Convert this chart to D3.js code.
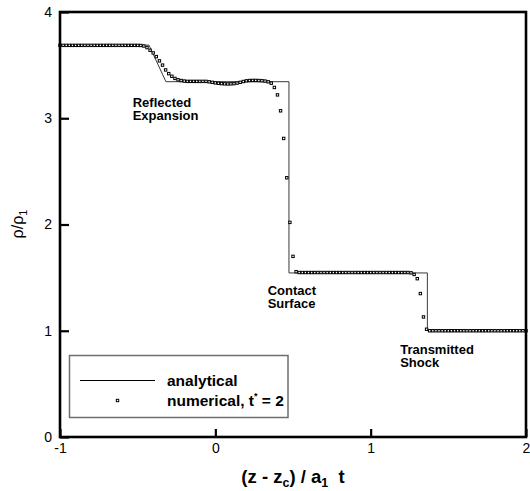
<!DOCTYPE html>
<html>
<head>
<meta charset="utf-8">
<script src="https://cdn.jsdelivr.net/npm/d3@7"></script>
<style>
  html, body { margin: 0; padding: 0; background: #fff; }
  svg { display: block; font-family: "Liberation Sans", Arial, Helvetica, sans-serif; }
</style>
</head>
<body>
<svg id="chart" width="530" height="491"></svg>
<script>
// ---------------- data ----------------
const xTicks = [-1, 0, 1, 2];
const yTicks = [0, 1, 2, 3, 4];

// analytical solution (piecewise)
const anaZ   = [-1, -0.427, -0.318, 0.474, 0.474, 1.365, 1.365, 2];
const anaRho = [3.688, 3.688, 3.344, 3.344, 1.544, 1.544, 1.0, 1.0];

// numerical solution, t* = 2
const numZ = [
  -1.00,-0.98,-0.96,-0.94,-0.92,-0.90,-0.88,-0.86,-0.84,-0.82,
  -0.80,-0.78,-0.76,-0.74,-0.72,-0.70,-0.68,-0.66,-0.64,-0.62,
  -0.60,-0.58,-0.56,-0.54,-0.52,-0.50,-0.48,-0.46,-0.44,-0.42,
  -0.40,-0.38,-0.36,-0.34,-0.32,-0.30,-0.28,-0.26,-0.24,-0.22,
  -0.20,-0.18,-0.16,-0.14,-0.12,-0.10,-0.08,-0.06,-0.04,-0.02,
   0.00, 0.02, 0.04, 0.06, 0.08, 0.10, 0.12, 0.14, 0.16, 0.18,
   0.20, 0.22, 0.24, 0.26, 0.28, 0.30, 0.32, 0.34, 0.36, 0.38,
   0.40, 0.42, 0.44, 0.46, 0.48, 0.50, 0.52, 0.54, 0.56, 0.58,
   0.60, 0.62, 0.64, 0.66, 0.68, 0.70, 0.72, 0.74, 0.76, 0.78,
   0.80, 0.82, 0.84, 0.86, 0.88, 0.90, 0.92, 0.94, 0.96, 0.98,
   1.00, 1.02, 1.04, 1.06, 1.08, 1.10, 1.12, 1.14, 1.16, 1.18,
   1.20, 1.22, 1.24, 1.26, 1.28, 1.30, 1.32, 1.34, 1.36, 1.38,
   1.40, 1.42, 1.44, 1.46, 1.48, 1.50, 1.52, 1.54, 1.56, 1.58,
   1.60, 1.62, 1.64, 1.66, 1.68, 1.70, 1.72, 1.74, 1.76, 1.78,
   1.80, 1.82, 1.84, 1.86, 1.88, 1.90, 1.92, 1.94, 1.96, 1.98,
   2.00
];
const numRho = [
  3.686,3.686,3.686,3.686,3.686,3.686,3.686,3.686,3.686,3.686,
  3.686,3.686,3.686,3.686,3.686,3.686,3.686,3.686,3.686,3.686,
  3.686,3.686,3.686,3.686,3.686,3.686,3.685,3.680,3.665,3.640,
  3.615,3.580,3.540,3.500,3.455,3.420,3.395,3.375,3.362,3.355,
  3.350,3.347,3.347,3.347,3.347,3.347,3.347,3.347,3.343,3.338,
  3.333,3.329,3.326,3.324,3.323,3.324,3.326,3.331,3.338,3.346,
  3.352,3.355,3.356,3.356,3.355,3.353,3.350,3.343,3.330,3.290,
  3.220,3.070,2.810,2.440,2.020,1.700,1.556,1.548,1.548,1.548,
  1.548,1.548,1.548,1.548,1.548,1.548,1.548,1.548,1.548,1.548,
  1.548,1.548,1.548,1.548,1.548,1.548,1.548,1.548,1.548,1.548,
  1.548,1.548,1.548,1.548,1.548,1.548,1.548,1.548,1.548,1.548,
  1.548,1.548,1.548,1.545,1.530,1.490,1.350,1.130,1.014,1.000,
  1.000,1.000,1.000,1.000,1.000,1.000,1.000,1.000,1.000,1.000,
  1.000,1.000,1.000,1.000,1.000,1.000,1.000,1.000,1.000,1.000,
  1.000,1.000,1.000,1.000,1.000,1.000,1.000,1.000,1.000,1.000,
  1.000
];

const annotations = [
  { lines: ["Reflected", "Expansion"], z: -0.532, rho: 3.106 },
  { lines: ["Contact", "Surface"], z: 0.337, rho: 1.34 },
  { lines: ["Transmitted", "Shock"], z: 1.19, rho: 0.783 }
];

// ---------------- layout ----------------
const svg = d3.select("#chart");
const L = 60, R = 526, T = 12, B = 437;
const x = d3.scaleLinear().domain([-1, 2]).range([L, R]);
const y = d3.scaleLinear().domain([0, 4]).range([B, T]);

// analytical line
svg.append("path")
  .datum(anaZ.map((z, i) => [z, anaRho[i]]))
  .attr("fill", "none")
  .attr("stroke", "#3a3a3a")
  .attr("stroke-width", 1)
  .attr("d", d3.line().x(d => x(d[0])).y(d => y(d[1])));

// numerical points
const ms = 2.4;
svg.append("g").selectAll("rect")
  .data(numZ.map((z, i) => [z, numRho[i]]))
  .join("rect")
  .attr("x", d => x(d[0]) - ms / 2)
  .attr("y", d => y(d[1]) - ms / 2)
  .attr("width", ms).attr("height", ms)
  .attr("fill", "#fff")
  .attr("stroke", "#000")
  .attr("stroke-width", 1);

// frame
svg.append("rect")
  .attr("x", L).attr("y", T)
  .attr("width", R - L).attr("height", B - T)
  .attr("fill", "none")
  .attr("stroke", "#000")
  .attr("stroke-width", 2.6);

// axes
const yAxis = d3.axisLeft(y).tickValues(yTicks).tickFormat(d => String(d))
  .tickSizeInner(-9).tickSizeOuter(0).tickPadding(8);
const gy = svg.append("g").attr("transform", `translate(${L},0)`).call(yAxis);

const xAxis = d3.axisBottom(x).tickValues(xTicks).tickFormat(d => String(d))
  .tickSizeInner(-8).tickSizeOuter(0).tickPadding(6);
const gx = svg.append("g").attr("transform", `translate(0,${B})`).call(xAxis);

[gx, gy].forEach(g => {
  g.select(".domain").remove();
  g.selectAll(".tick line").attr("stroke", "#000").attr("stroke-width", 2.2);
  g.selectAll(".tick text")
    .attr("fill", "#000")
    .style("font-family", '"Liberation Sans", Arial, sans-serif')
    .style("font-size", "14px");
});

// annotations
annotations.forEach(a => {
  const t = svg.append("text")
    .attr("x", x(a.z)).attr("y", y(a.rho))
    .attr("font-size", 13).attr("font-weight", "bold").attr("fill", "#000");
  a.lines.forEach((ln, i) => {
    t.append("tspan").attr("x", x(a.z)).attr("dy", i === 0 ? 0 : 13.5).text(ln);
  });
});

// legend
const lg = svg.append("g");
lg.append("rect")
  .attr("x", 69.5).attr("y", 355.5).attr("width", 218.5).attr("height", 62)
  .attr("fill", "#fff").attr("stroke", "#6e6e6e").attr("stroke-width", 1.5);
lg.append("line")
  .attr("x1", 80).attr("x2", 155).attr("y1", 380.5).attr("y2", 380.5)
  .attr("stroke", "#000").attr("stroke-width", 1.2);
lg.append("rect")
  .attr("x", 117.5 - ms / 2).attr("y", 400.5 - ms / 2).attr("width", ms).attr("height", ms)
  .attr("fill", "#fff").attr("stroke", "#000").attr("stroke-width", 1);
lg.append("text").attr("x", 167).attr("y", 386)
  .attr("font-size", 15.5).attr("font-weight", "bold").text("analytical");
const lt = lg.append("text").attr("x", 167).attr("y", 405.5)
  .attr("font-size", 15.5).attr("font-weight", "bold");
lt.append("tspan").text("numerical, t");
lt.append("tspan").attr("font-size", 9).attr("dy", -7).text("*");
lt.append("tspan").attr("dy", 7).text(" = 2");

// x axis title
const xt = svg.append("text")
  .attr("x", (L + R) / 2).attr("y", 482.5)
  .attr("text-anchor", "middle")
  .attr("font-size", 18.5).attr("font-weight", "bold").attr("fill", "#000")
  .style("white-space", "pre");
xt.append("tspan").text("(z - z");
xt.append("tspan").attr("font-size", 12.5).attr("dy", 4).text("c");
xt.append("tspan").attr("dy", -4).text(") / a");
xt.append("tspan").attr("font-size", 12.5).attr("dy", 4).text("1");
xt.append("tspan").attr("dy", -4).text("  t");

// y axis title
const yt = svg.append("text")
  .attr("transform", `translate(23,224) rotate(-90)`)
  .attr("text-anchor", "middle")
  .attr("font-size", 16).attr("fill", "#000");
yt.append("tspan").text("ρ/ρ");
yt.append("tspan").attr("font-size", 11).attr("dy", 4).text("1");
</script>
</body>
</html>
